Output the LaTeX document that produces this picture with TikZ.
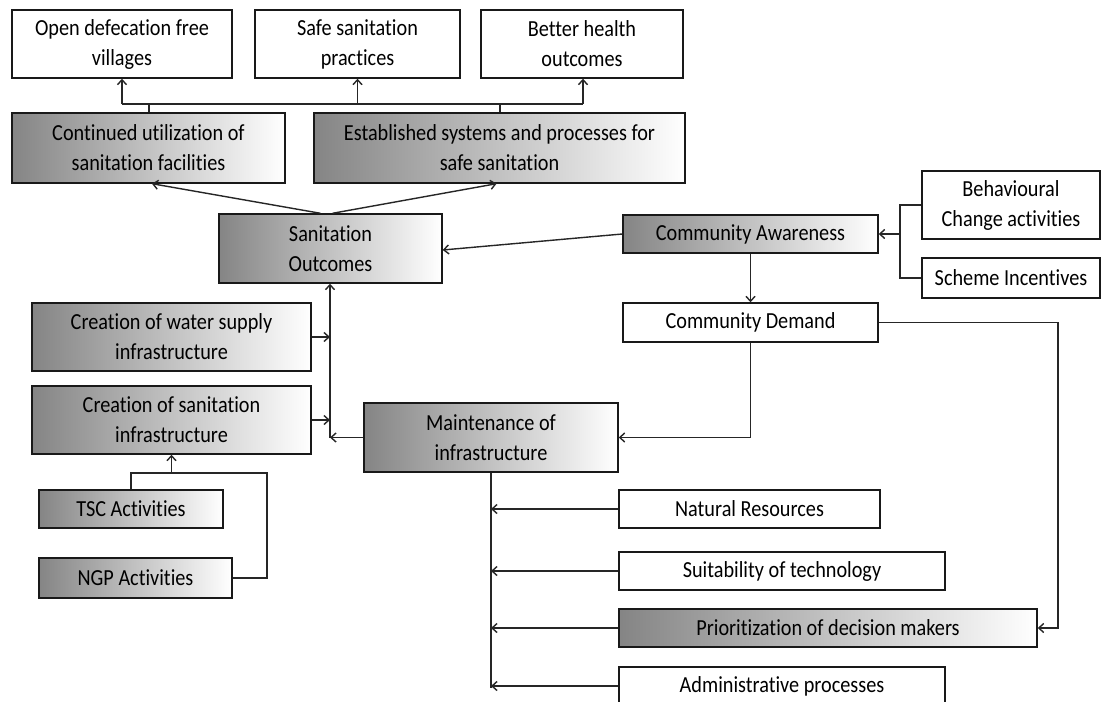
\documentclass[tikz,border=0pt]{standalone}
\usepackage{fontspec}
\setmainfont{Carlito}[FakeStretch=0.88,RawFeature=-liga]
\usetikzlibrary{arrows.meta,calc}
\begin{document}
\begin{tikzpicture}[x=1pt,y=-1pt,
  box/.style={draw=black!90, line width=1.4pt, inner sep=0pt, align=center,
    font=\fontsize{23}{30}\selectfont, text=black},
  plain/.style={box, fill=white},
  shade/.style={box, left color=black!48, right color=white},
  ln/.style={draw=black!85, line width=1.4pt},
  arr/.style={ln, -{Straight Barb[length=5pt,width=9pt]}}]
\useasboundingbox (0,0) rectangle (1102,701);
\clip (0,0) rectangle (1102,701);
\fill[white] (0,0) rectangle (1102,701);
% top outcome boxes
\node[plain, minimum width=220pt, minimum height=68pt] (odf) at (122,44) {Open defecation free\\villages};
\node[plain, minimum width=205pt, minimum height=68pt] (ssp) at (357.5,44) {Safe sanitation\\practices};
\node[plain, minimum width=202pt, minimum height=68pt] (bho) at (582,44) {Better health\\outcomes};
% second row
\node[shade, minimum width=273pt, minimum height=70pt] (cont) at (148.5,148) {Continued utilization of\\sanitation facilities};
\node[shade, minimum width=371pt, minimum height=70pt] (est) at (499.5,148) {Established systems and processes for\\safe sanitation};
% middle
\node[shade, minimum width=223pt, minimum height=69pt] (so) at (330.5,248.5) {Sanitation\\Outcomes};
\node[shade, minimum width=255pt, minimum height=38pt] (ca) at (750.5,234) {Community Awareness};
\node[plain, minimum width=178pt, minimum height=68pt] (bca) at (1011,205) {Behavioural\\Change activities};
\node[plain, minimum width=178pt, minimum height=40pt] (si) at (1011,278) {Scheme Incentives};
\node[plain, minimum width=255pt, minimum height=39pt] (cd) at (750.5,322.5) {Community Demand};
\node[shade, minimum width=279pt, minimum height=68pt] (wsi) at (171.5,337) {Creation of water supply\\infrastructure};
\node[shade, minimum width=279pt, minimum height=68pt] (csi) at (171.5,420) {Creation of sanitation\\infrastructure};
\node[shade, minimum width=254pt, minimum height=69pt] (mi) at (491,437.5) {Maintenance of\\infrastructure};
\node[shade, minimum width=184pt, minimum height=38pt] (tsc) at (131,509) {TSC Activities};
\node[shade, minimum width=193pt, minimum height=40pt] (ngp) at (135.5,578) {NGP Activities};
% factors
\node[plain, minimum width=261pt, minimum height=38pt] (nr) at (749.5,509) {Natural Resources};
\node[plain, minimum width=326pt, minimum height=38pt] (st) at (782,571) {Suitability of technology};
\node[shade, minimum width=418pt, minimum height=38pt] (pdm) at (828,628) {Prioritization of decision makers};
\node[plain, minimum width=326pt, minimum height=38pt] (ap) at (782,686) {Administrative processes};
% junction coordinates
\coordinate (hl) at (122,104);
\coordinate (hr) at (583,104);
\coordinate (c1) at (149,104);
\coordinate (c2) at (500,104);
\coordinate (bx) at (900,234);
\coordinate (vx) at (330,437.5);
\coordinate (tj) at (171.5,473);
\coordinate (tr) at (267,473);
\coordinate (mb) at (491,688);
\coordinate (rx) at (1058,322.5);
% top connectors
\draw[ln] (cont.north -| c1) -- (c1);
\draw[ln] (est.north -| c2) -- (c2);
\draw[ln] (hl) -- (hr);
\draw[arr] (hl) -- (odf.south);
\draw[arr] (ssp.south |- hl) -- (ssp.south);
\draw[arr] (hr) -- (bho.south -| hr);
% sanitation outcomes to row 2
\draw[arr] ([xshift=-10pt]so.north) -- ([xshift=3.5pt]cont.south);
\draw[arr] ([xshift=2pt]so.north) -- ([xshift=-3pt]est.south);
% community awareness
\draw[arr] (ca.west) -- ([yshift=-1.5pt]so.east);
\draw[ln] (bca.west) -- (bca.west -| bx) -- (si.west -| bx) -- (si.west);
\draw[arr] (bx) -- (ca.east);
\draw[arr] (ca.south) -- (cd.north);
\draw[arr] (cd.south) |- (mi.east);
% maintenance and creation
\draw[arr] (mi.west) -- (vx);
\draw[arr] (vx) -- (so.south -| vx);
\draw[arr] (wsi.east) -- (wsi.east -| vx);
\draw[arr] (csi.east) -- (csi.east -| vx);
\draw[ln] (tsc.north) |- (tr) |- (ngp.east);
\draw[arr] (tj) -- (csi.south);
% factors
\draw[ln] (mi.south) -- (mb);
\foreach \n in {nr,st,pdm,ap} \draw[arr] (\n.west) -- (\n.west -| mb);
\draw[arr] (cd.east) -- (rx) |- (pdm.east);
\end{tikzpicture}
\end{document}
